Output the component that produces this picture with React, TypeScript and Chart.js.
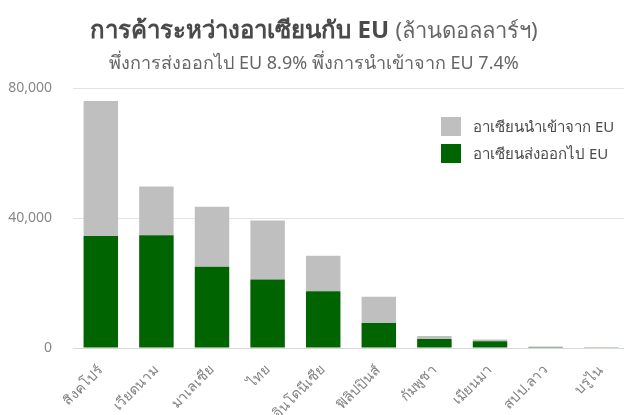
import React, { useEffect, useRef } from "react";
import { Chart, registerables } from "chart.js";

Chart.register(...registerables);

const categories = ["สิงคโปร์", "เวียดนาม", "มาเลเซีย", "ไทย", "อินโดนีเซีย", "ฟิลิปปินส์", "กัมพูชา", "เมียนมา", "สปป.ลาว", "บรูไน"];
const exportsToEU = [34500, 34700, 25000, 21100, 17500, 7700, 2800, 2050, 100, 40];
const importsFromEU = [41500, 15000, 18500, 18150, 10900, 8050, 900, 550, 330, 60];
const seriesLabels = ["อาเซียนส่งออกไป EU", "อาเซียนนำเข้าจาก EU"];
const yTicks = [0, 40000, 80000];

const GREEN = "#006400";
const GRAY = "#bfbfbf";
const FONT = "'Noto Sans', 'DejaVu Sans', sans-serif";

export default function App() {
  const ref = useRef<HTMLCanvasElement | null>(null);

  useEffect(() => {
    if (!ref.current) return;
    document.body.style.overflow = "hidden";
    const chart = new Chart(ref.current, {
      type: "bar",
      data: {
        labels: categories,
        datasets: [
          { label: seriesLabels[0], data: exportsToEU, backgroundColor: GREEN, barPercentage: 0.62, categoryPercentage: 1 },
          { label: seriesLabels[1], data: importsFromEU, backgroundColor: GRAY, barPercentage: 0.62, categoryPercentage: 1 },
        ],
      },
      options: {
        animation: false,
        responsive: false,
        maintainAspectRatio: false,
        layout: { padding: { top: 88, left: 8, right: 3, bottom: 0 } },
        plugins: {
          legend: { display: false },
          title: { display: false },
          tooltip: { enabled: false },
        },
        scales: {
          x: {
            stacked: true,
            grid: { display: false, drawTicks: false },
            border: { display: true, color: "#d9d9d9" },
            afterFit: (axis: any) => {
              axis.paddingLeft = 0;
              axis.paddingRight = 0;
              axis.height = 67;
            },
            ticks: {
              minRotation: 45,
              maxRotation: 45,
              color: "#808080",
              padding: 14,
              font: { family: FONT, size: 14 },
            },
          },
          y: {
            stacked: true,
            min: 0,
            max: 80000,
            afterBuildTicks: (axis: any) => {
              axis.ticks = yTicks.map((v) => ({ value: v }));
            },
            afterFit: (axis: any) => {
              axis.width = 65;
            },
            grid: { color: "#e3e3e3", drawTicks: false },
            border: { display: false },
            ticks: {
              color: "#888",
              padding: 21,
              font: { family: FONT, size: 14 },
              callback: (v: any) => Number(v).toLocaleString("en-US"),
            },
          },
        },
      },
    });
    return () => chart.destroy();
  }, []);

  return (
    <div style={{ position: "fixed", left: 0, top: 0, width: 640, height: 415, background: "#fff", fontFamily: FONT }}>
      <canvas ref={ref} width={632} height={415} style={{ position: "absolute", left: 0, top: 0 }} />
      <div style={{ position: "absolute", left: 0, top: 10, width: 628, textAlign: "center", color: "#4a4a4a", whiteSpace: "nowrap" }}>
        <span style={{ fontSize: 24, fontWeight: "bold" }}>การค้าระหว่างอาเซียนกับ EU </span>
        <span style={{ fontSize: 22, color: "#666" }}>(ล้านดอลลาร์ฯ)</span>
      </div>
      <div style={{ position: "absolute", left: 0, top: 48, width: 628, textAlign: "center", color: "#666", fontSize: 18, whiteSpace: "nowrap" }}>
        พึ่งการส่งออกไป EU 8.9% พึ่งการนำเข้าจาก EU 7.4%
      </div>
      <div style={{ position: "absolute", left: 441, top: 113, fontSize: 15, color: "#4a4a4a" }}>
        {[1, 0].map((i) => (
          <div key={i} style={{ display: "flex", alignItems: "center", height: 27 }}>
            <span style={{ display: "inline-block", width: 20, height: 19, background: i === 1 ? GRAY : GREEN, marginRight: 12 }} />
            <span>{seriesLabels[i]}</span>
          </div>
        ))}
      </div>
    </div>
  );
}
